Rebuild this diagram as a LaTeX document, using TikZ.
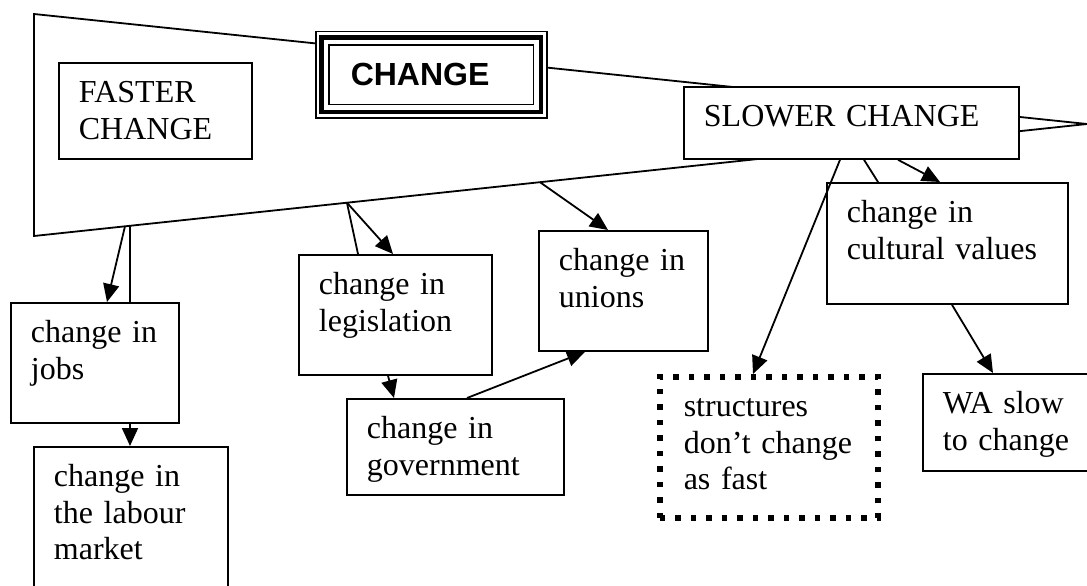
\documentclass[tikz,border=0pt]{standalone}
\usepackage{fontspec}
\setmainfont{Liberation Serif}
\newfontfamily\headfont{Liberation Sans}
\usetikzlibrary{arrows.meta}

\tikzset{
  ln/.style={line width=1.8pt, line cap=round},
  arr/.style={line width=1.8pt, -{Triangle[length=18pt,width=16pt]}},
  % text box: first baseline 40pt below the top edge, 20pt left padding
  box/.style={draw, fill=white, line width=1.8pt, anchor=north west,
    inner xsep=20pt, inner ysep=0pt, align=left, text height=40pt,
    font=\fontsize{32}{36.5}\selectfont},
  dotbox/.style={box, line width=5.5pt, dash pattern=on 5.5pt off 10pt, inner xsep=24pt},
  headbox/.style={draw, fill=white, line width=1.5pt, anchor=north west,
    inner xsep=35pt, inner ysep=0pt, align=left,
    text width=161pt, text height=54pt, text depth=32pt,
    font=\headfont\bfseries\fontsize{32}{36}\selectfont},
}

\begin{document}
\begin{tikzpicture}[x=1pt, y=-1pt]
\useasboundingbox (0,0) rectangle (1087,586);
\clip (0,0) rectangle (1087,586);

% the wedge behind everything
\coordinate (wA) at (34,14);
\coordinate (wT) at (1087,124);
\coordinate (wB) at (34,236);
\draw[ln, line join=miter] (wA) -- (wT) -- (wB) -- cycle;
\path (wB) -- (wT)
  coordinate[pos=0.0864] (f1)
  coordinate[pos=0.0912] (f2)
  coordinate[pos=0.2972] (f3)
  coordinate[pos=0.4805] (f4);

% boxes
\node[box, text width=153pt, text depth=56pt] (faster) at (58,62) {FASTER\\CHANGE};
\node[box, text width=295pt, text depth=32pt] (slower) at (683,86) {SLOWER CHANGE};
\node[box, text width=128pt, text depth=80pt] (jobs) at (10,302) {change in\\jobs};
\node[box, text width=154pt, text depth=114pt] (labour) at (33,446) {change in\\the labour\\market};
\node[box, text width=153pt, text depth=80pt] (legis) at (298,254) {change in\\legislation};
\node[box, text width=177pt, text depth=56pt] (govt) at (346,398) {change in\\government};
\node[box, text width=129pt, text depth=80pt] (unions) at (538,230) {change in\\unions};
\node[box, text width=201pt, text depth=81pt] (cultural) at (826,182) {change in\\cultural values};
\node[box, text width=138pt, text depth=57pt] (wa) at (922,373) {WA slow\\to change};
\node[dotbox, text width=170pt, text depth=101pt] (struct) at (657,374) {structures\\don’t change\\as fast};

% title box with a triple frame
\node[headbox] (change) at (315,31) {CHANGE};
\draw[line width=4.5pt] ([shift={(6.5,6.5)}]change.north west) rectangle ([shift={(-6.5,-6.5)}]change.south east);
\draw[line width=1.5pt] ([shift={(14,14)}]change.north west) rectangle ([shift={(-14,-14)}]change.south east);

% connectors
\draw[arr] (f1) -- ([xshift=97pt]jobs.north west);
\draw[ln] (f2) -- ([xshift=120pt]jobs.north west);
\draw[arr] ([xshift=120pt]jobs.south west) -- ([xshift=97pt]labour.north west);
\draw[ln] (f3) -- ([xshift=60pt]legis.north west);
\draw[arr] (f3) -- ([xshift=95pt]legis.north west);
\draw[arr] ([xshift=90pt]legis.south west) -- ([xshift=48pt]govt.north west);
\draw[arr] ([xshift=121pt]govt.north west) -- ([xshift=47pt]unions.south west);
\draw[arr] (f4) -- ([xshift=70pt]unions.north west);
\draw[arr] ([xshift=157pt]slower.south west) -- ([xshift=96pt]struct.north west);
\draw[ln] ([xshift=181pt]slower.south west) -- ([xshift=52pt]cultural.north west);
\draw[arr] ([xshift=215pt]slower.south west) -- ([xshift=114pt]cultural.north west);
\draw[arr] ([xshift=126pt]cultural.south west) -- ([xshift=71pt]wa.north west);
\end{tikzpicture}
\end{document}
